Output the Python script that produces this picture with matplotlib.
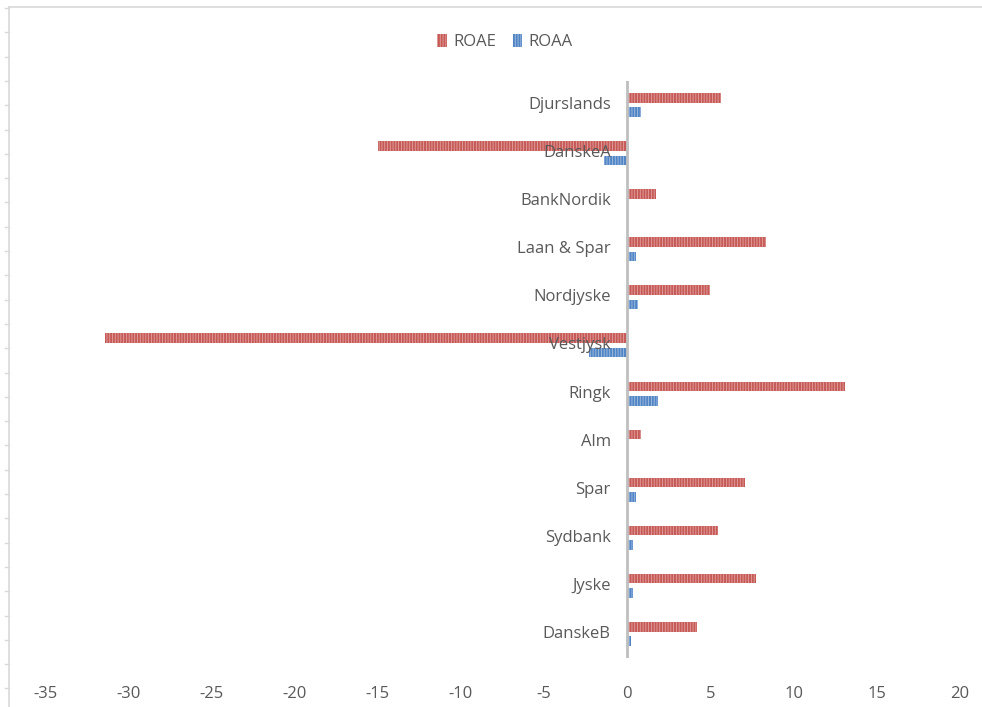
import matplotlib
matplotlib.use("Agg")
import matplotlib.pyplot as plt
from matplotlib.lines import Line2D
import numpy as np

categories = ["Djurslands", "DanskeA", "BankNordik", "Laan & Spar", "Nordjyske",
              "Vestjysk", "Ringk", "Alm", "Spar", "Sydbank", "Jyske", "DanskeB"]
roae = [5.65, -15.0, 1.75, 8.35, 5.0, -31.4, 13.1, 0.85, 7.1, 5.45, 7.75, 4.2]
roaa = [0.85, -1.4, 0.0, 0.55, 0.65, -2.3, 1.85, 0.0, 0.55, 0.35, 0.35, 0.25]
xticks = [-35, -30, -25, -20, -15, -10, -5, 0, 5, 10, 15, 20]

plt.rcParams['font.family'] = ['Open Sans', 'DejaVu Sans']
plt.rcParams['hatch.linewidth'] = 0.6

fig = plt.figure(figsize=(9.82, 7.07), dpi=100)
ax = fig.add_axes([45/982, 1-658/707, (960-45)/982, (658-81)/707])

y = np.arange(len(categories))
red = '#C55A57'
blue = '#5285C4'
ax.barh(y - 0.15, roae, height=0.2, color=red, edgecolor='#E3A3A1', linewidth=0,
        hatch='||||||', label='ROAE')
ax.barh(y + 0.15, roaa, height=0.2, color=blue, edgecolor='#A3BFE3', linewidth=0,
        hatch='||||||', label='ROAA')

ax.set_ylim(len(categories) - 0.5, -0.5)
ax.set_xlim(-35, 20)
ax.set_xticks(xticks)
ax.set_xticklabels([str(t) for t in xticks], color='#595959', fontsize=12)
ax.tick_params(axis='x', length=0, pad=20)
ax.set_yticks([])
for s in ['top', 'right', 'bottom', 'left']:
    ax.spines[s].set_visible(False)
ax.axvline(0, color='#BFBFBF', linewidth=2, zorder=3)

for yi, c in zip(y, categories):
    ax.text(-1.0, yi, c, ha='right', va='center', fontsize=12, color='#595959', zorder=4)

leg = fig.legend(loc='center', bbox_to_anchor=(505/982, 1-42/707), ncol=2, frameon=False,
                 fontsize=12, handlelength=0.55, handleheight=0.8, columnspacing=1.0,
                 handletextpad=0.4)
for t in leg.get_texts():
    t.set_color('#595959')

# chart frame
fig.add_artist(Line2D([9/982, 9/982], [0, 1-7/707], color='#D9D9D9', linewidth=1.2))
fig.add_artist(Line2D([9/982, 1], [1-7/707, 1-7/707], color='#D9D9D9', linewidth=1.2))
for k in range(29):
    yy = 1 - (8 + 24.3 * k) / 707
    if yy < 0:
        break
    fig.add_artist(Line2D([5/982, 9/982], [yy, yy], color='#D9D9D9', linewidth=1))

fig.savefig('out.png', dpi=100)
